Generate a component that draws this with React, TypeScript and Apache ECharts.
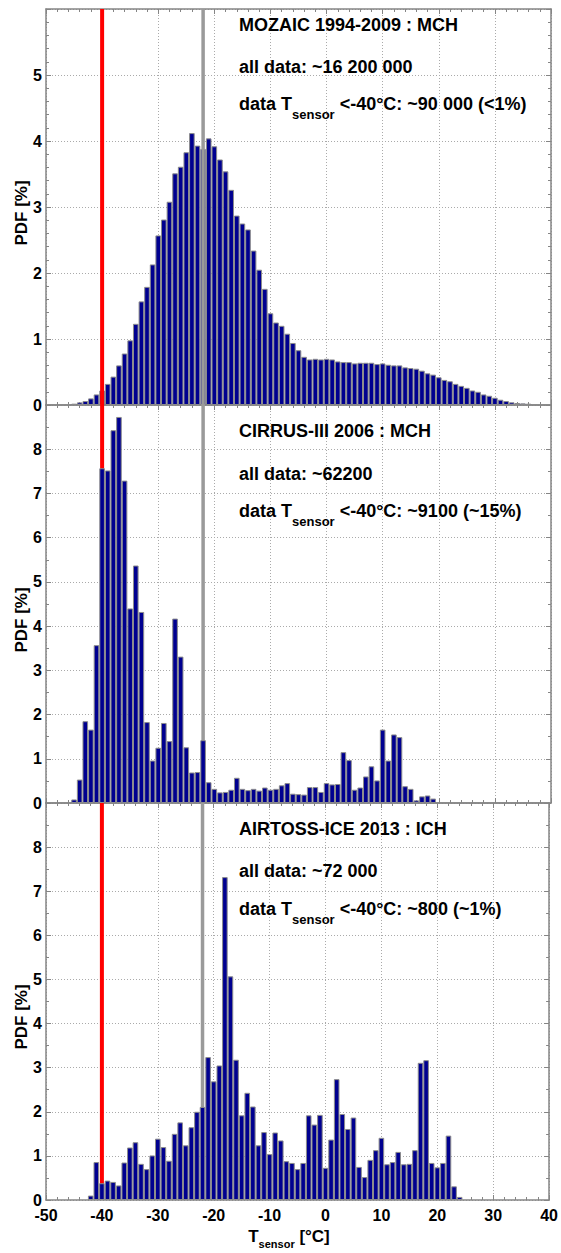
import React, { useEffect, useRef } from "react";
import * as echarts from "echarts";

const FONT = '"Liberation Sans", Arial, Helvetica, sans-serif';

// Temperature axis (°C)
const xMin = -50;
const xMax = 40;
const xStep = 10;

// Reference temperatures drawn as vertical lines (°C)
const freezingLimit = -40;
const meanLine = -22;

// PDF [%] per 1 °C bin; each array starts at its *Start bin centre
const mozaicStart = -47;
const mozaicPdf = [
  0.005, 0.01, 0.02, 0.04, 0.06, 0.1, 0.16,
  0.22, 0.32, 0.43, 0.6, 0.78, 0.98, 1.23, 1.57, 1.79, 2.13,
  2.57, 2.81, 3.08, 3.51, 3.61, 3.83, 4.12, 3.93, 3.88, 4.04,
  3.92, 3.72, 3.54, 3.26, 2.87, 2.75, 2.66, 2.34, 2.05, 1.76,
  1.39, 1.25, 1.2, 1.08, 0.94, 0.83, 0.73, 0.69, 0.7, 0.69,
  0.7, 0.69, 0.66, 0.65, 0.65, 0.63, 0.64, 0.64, 0.64, 0.62,
  0.63, 0.61, 0.6, 0.6, 0.57, 0.56, 0.55, 0.52, 0.48, 0.46,
  0.42, 0.38, 0.36, 0.32, 0.29, 0.26, 0.22, 0.2, 0.16, 0.14,
  0.11, 0.08, 0.06, 0.04, 0.03, 0.025, 0.02, 0.015, 0.01,
];

const cirrusStart = -45;
const cirrusPdf = [
  0.08, 0.53, 1.85, 1.66, 3.57,
  7.57, 7.52, 8.43, 8.73, 7.29, 4.4, 5.37, 4.32, 1.83, 0.96,
  1.25, 1.81, 1.4, 4.17, 3.31, 1.26, 0.69, 0.7, 1.42, 0.47,
  0.32, 0.24, 0.25, 0.3, 0.57, 0.32, 0.29, 0.32, 0.28, 0.35,
  0.3, 0.32, 0.4, 0.45, 0.21, 0.2, 0.19, 0.36, 0.36, 0.25,
  0.45, 0.42, 0.43, 1.15, 0.97, 0.3, 0.35, 0.6, 0.83, 0.51,
  1.66, 0.96, 1.55, 1.49, 0.38, 0.32, 0.06, 0.15, 0.17, 0.1,
];

const airtossStart = -42;
const airtossPdf = [
  0.1, 0.86,
  0.38, 0.44, 0.41, 0.33, 0.85, 1.19, 1.31, 0.82, 0.7, 1.01,
  1.39, 1.2, 0.89, 1.5, 1.76, 1.24, 1.65, 2.0, 2.11, 3.24,
  2.69, 3.05, 7.32, 5.07, 3.18, 1.92, 2.43, 2.12, 1.24, 1.54,
  1.04, 1.53, 1.35, 0.88, 0.84, 0.7, 0.84, 1.92, 1.71, 1.93,
  0.73, 1.37, 2.74, 1.95, 1.61, 1.87, 0.75, 0.52, 0.91, 1.13,
  1.41, 0.81, 0.86, 1.09, 0.81, 0.82, 1.13, 3.11, 3.17, 0.84,
  0.74, 0.84, 1.46, 0.31, 0.07,
];

const panelStarts = [mozaicStart, cirrusStart, airtossStart];
const panelPdfs = [mozaicPdf, cirrusPdf, airtossPdf];
const panelYMax = [6, 9, 9];
const panelMinorSplit = [5, 2, 2];

const panelTitles = [
  "MOZAIC 1994-2009 : MCH",
  "CIRRUS-III 2006 : MCH",
  "AIRTOSS-ICE 2013 : ICH",
];
const panelTotals = [
  "all data: ~16 200 000",
  "all data: ~62200",
  "all data: ~72 000",
];
const panelColdShares = [
  "~90 000 (<1%)",
  "~9100 (~15%)",
  "~800 (~1%)",
];

const W = 561;
const H = 1253;
const gridLeft = 46;
const gridRight = 10;
const gridTops = [9, 405, 803];
const gridHeights = [396, 398, 397];
const textLeft = 239;
const textTops = [
  [15.5, 58.1, 94.8],
  [421.8, 464.8, 501.8],
  [819.8, 861.8, 899.8],
];
const yNameCenters = [213, 620, 1017];

const frameColor = "#858585";
const gridColor = "#aaaaaa";

const richMain = {
  fontSize: 18,
  fontWeight: "bold",
  fontFamily: FONT,
  fill: "#000",
  lineHeight: 18,
  verticalAlign: "top",
};
const richSub = {
  fontSize: 13,
  fontWeight: "bold",
  fontFamily: FONT,
  fill: "#000",
  lineHeight: 13,
  padding: [13, 0, 0, 0],
  verticalAlign: "top",
};

function buildOption() {
  const grid: any[] = [];
  const xAxis: any[] = [];
  const yAxis: any[] = [];
  const series: any[] = [];
  const graphic: any[] = [];

  const axisLine = { show: true, onZero: false, lineStyle: { color: frameColor, width: 1.5 } };
  const tickStyle = { color: frameColor, width: 1 };
  const labelStyle = {
    fontSize: 16,
    fontWeight: "bold",
    color: "#000",
    fontFamily: FONT,
  };

  for (let p = 0; p < 3; p++) {
    grid.push({
      left: gridLeft,
      right: gridRight,
      top: gridTops[p],
      height: gridHeights[p],
      containLabel: false,
    });

    const xCommon = {
      gridIndex: p,
      type: "value",
      min: xMin,
      max: xMax,
      interval: xStep,
      axisLine,
      axisTick: { show: true, inside: true, length: 5, lineStyle: tickStyle },
      minorTick: { show: true, splitNumber: 5, length: 3, lineStyle: tickStyle },
      minorSplitLine: { show: false },
    };
    xAxis.push({
      ...xCommon,
      position: "bottom",
      splitLine: { show: true, lineStyle: { color: gridColor, width: 1, type: [1, 2] } },
      axisLabel: { show: p === 2, margin: 7, ...labelStyle },
    });
    xAxis.push({
      ...xCommon,
      position: "top",
      splitLine: { show: false },
      axisLabel: { show: false },
    });

    const yCommon = {
      gridIndex: p,
      type: "value",
      min: 0,
      max: panelYMax[p],
      interval: 1,
      axisLine,
      axisTick: { show: true, inside: true, length: 5, lineStyle: tickStyle },
      minorTick: { show: true, splitNumber: panelMinorSplit[p], length: 3, lineStyle: tickStyle },
      minorSplitLine: { show: false },
    };
    yAxis.push({
      ...yCommon,
      position: "left",
      splitLine: { show: true, lineStyle: { color: gridColor, width: 1, type: [1, 2] } },
      axisLabel: { show: true, margin: 4, showMaxLabel: false, ...labelStyle },
    });
    yAxis.push({
      ...yCommon,
      position: "right",
      splitLine: { show: false },
      axisLabel: { show: false },
    });

    const start = panelStarts[p];
    series.push({
      type: "bar",
      xAxisIndex: 2 * p,
      yAxisIndex: 2 * p,
      data: panelPdfs[p].map((v, i) => [start + i, v]),
      barWidth: "100%",
      itemStyle: { color: "#000090", borderColor: "#8c8c8c", borderWidth: 1 },
      z: 2,
      silent: true,
    });

    // In the top panel the reference lines sit above the bars, below them elsewhere
    const lineZ = p === 0 ? 4 : 1;
    series.push({
      type: "line",
      xAxisIndex: 2 * p,
      yAxisIndex: 2 * p,
      data: [
        [freezingLimit, 0],
        [freezingLimit, panelYMax[p]],
      ],
      symbol: "none",
      lineStyle: { color: "#ff0000", width: 4 },
      z: lineZ,
      silent: true,
    });
    series.push({
      type: "line",
      xAxisIndex: 2 * p,
      yAxisIndex: 2 * p,
      data: [
        [meanLine, 0],
        [meanLine, panelYMax[p]],
      ],
      symbol: "none",
      lineStyle: { color: "#9a9a9a", width: 3.5 },
      z: lineZ,
      silent: true,
    });

    const tops = textTops[p];
    graphic.push({
      type: "text",
      x: textLeft,
      y: tops[0],
      z: 10,
      style: {
        text: `{m|${panelTitles[p]}}`,
        rich: { m: richMain },
        align: "left",
        verticalAlign: "top",
      },
    });
    graphic.push({
      type: "text",
      x: textLeft,
      y: tops[1],
      z: 10,
      style: {
        text: `{m|${panelTotals[p]}}`,
        rich: { m: richMain },
        align: "left",
        verticalAlign: "top",
      },
    });
    graphic.push({
      type: "text",
      x: textLeft,
      y: tops[2],
      z: 10,
      style: {
        text: `{m|data T}{s|sensor}{m| <-40°C: ${panelColdShares[p]}}`,
        rich: { m: richMain, s: richSub },
        align: "left",
        verticalAlign: "top",
      },
    });
    graphic.push({
      type: "text",
      x: 21.5,
      y: yNameCenters[p],
      rotation: Math.PI / 2,
      z: 10,
      style: {
        text: "PDF [%]",
        fontSize: 17,
        fontWeight: "bold",
        fontFamily: FONT,
        fill: "#000",
        align: "center",
        verticalAlign: "middle",
      },
    });
  }

  graphic.push({
    type: "text",
    x: 289,
    y: 1227.5,
    z: 10,
    style: {
      text: "{m|T}{s|sensor}{m| [°C]}",
      rich: {
        m: { ...richMain, fontSize: 17, lineHeight: 17 },
        s: { ...richSub, fontSize: 11, lineHeight: 11, padding: [11, 0, 0, 0] },
      },
      align: "center",
      verticalAlign: "top",
    },
  });

  return {
    animation: false,
    backgroundColor: "#ffffff",
    textStyle: { fontFamily: FONT },
    grid,
    xAxis,
    yAxis,
    series,
    graphic,
  };
}

export default function App() {
  const ref = useRef<HTMLDivElement>(null);

  useEffect(() => {
    if (!ref.current) return;
    const chart = echarts.init(ref.current, undefined, { renderer: "svg" });
    chart.setOption(buildOption() as any);
    return () => chart.dispose();
  }, []);

  return (
    <div
      ref={ref}
      style={{ position: "absolute", left: 0, top: 0, width: W, height: H, background: "#fff" }}
    />
  );
}
